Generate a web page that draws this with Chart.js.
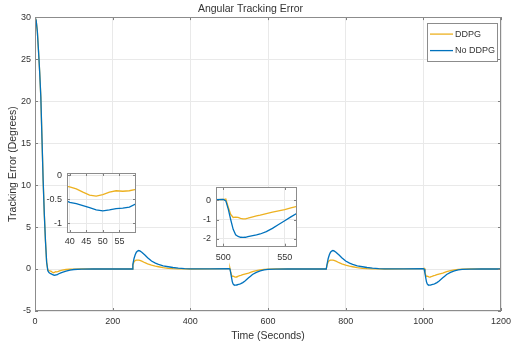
<!DOCTYPE html>
<html lang="en">
<head>
<meta charset="UTF-8">
<title>Angular Tracking Error</title>
<script src="https://cdn.jsdelivr.net/npm/chart.js"></script>
<style>
  body { margin: 0; background: #fff; }
  .wrap { position: relative; width: 511px; height: 347px; }
  canvas { position: absolute; }
  #main { left: 0; top: 0; }
  #inset1 { left: 30px; top: 168px; }
  #inset2 { left: 190px; top: 182px; }
</style>
</head>
<body>
<div class="wrap">
  <canvas id="main" width="511" height="347"></canvas>
  <canvas id="inset1" width="110" height="81"></canvas>
  <canvas id="inset2" width="111" height="81"></canvas>
</div>
<script>
// time axis (seconds)
const time = [
  0, 3, 6, 9, 12, 15, 18, 21, 24, 27, 30, 33, 36, 40, 42, 44, 46, 48, 50, 52,
  54, 56, 58, 60, 65, 70, 80, 90, 100, 120, 150, 200,
  250, 252, 255, 258, 261, 264, 267, 270, 275, 283, 290, 300, 310, 318, 330, 343, 355, 369, 385, 400, 450,
  500, 502, 504, 506, 508, 510, 512, 514, 516, 518, 520, 524, 527, 530, 535, 540, 545, 550, 555, 560,
  570, 580, 590, 600, 620, 650, 700,
  750, 752, 755, 758, 761, 764, 767, 770, 775, 783, 790, 800, 810, 818, 830, 843, 855, 869, 885, 900, 950,
  1000, 1002, 1004, 1006, 1008, 1010, 1012, 1014, 1016, 1018, 1020, 1024, 1027, 1030, 1035, 1040, 1045, 1050, 1055, 1060,
  1070, 1080, 1090, 1100, 1120, 1150, 1200
];

// DDPG error (degrees)
const ddpg = [
  30, 29.6, 28.3, 26, 23.5, 20.5, 15.5, 10.5, 6.5, 3.3, 0.8, -0.1, -0.18, -0.24, -0.28, -0.35, -0.41, -0.43, -0.4, -0.35,
  -0.32, -0.33, -0.32, -0.29, -0.2, -0.13, -0.06, -0.03, -0.01, 0, 0, 0,
  0, 0.45, 0.85, 1.0, 1.05, 1.07, 1.07, 1.03, 0.93, 0.75, 0.62, 0.47, 0.35, 0.27, 0.16, 0.08, 0.04, 0.02, 0.01, 0, 0.02,
  0.05, 0.08, -0.35, -0.72, -0.88, -0.86, -0.88, -0.93, -0.96, -0.95, -0.92, -0.85, -0.8, -0.76, -0.68, -0.6, -0.54, -0.48, -0.39, -0.31,
  -0.18, -0.09, -0.04, -0.02, 0, 0, 0,
  0, 0.45, 0.85, 1.0, 1.05, 1.07, 1.07, 1.03, 0.93, 0.75, 0.62, 0.47, 0.35, 0.27, 0.16, 0.08, 0.04, 0.02, 0.01, 0, 0.02,
  0.05, 0.08, -0.35, -0.72, -0.88, -0.86, -0.88, -0.93, -0.96, -0.95, -0.92, -0.85, -0.8, -0.76, -0.68, -0.6, -0.54, -0.48, -0.39, -0.31,
  -0.18, -0.09, -0.04, -0.02, 0, 0, 0
];

// No DDPG error (degrees)
const noDdpg = [
  30, 29.6, 28.3, 26, 23.5, 20.5, 15.5, 10.5, 6.5, 3.3, 0.8, -0.2, -0.42, -0.56, -0.59, -0.63, -0.67, -0.72, -0.74, -0.72,
  -0.69, -0.68, -0.66, -0.59, -0.5, -0.4, -0.25, -0.13, -0.06, -0.01, 0, 0,
  0, 0.55, 1.25, 1.7, 2.0, 2.15, 2.2, 2.15, 2.0, 1.67, 1.35, 0.95, 0.7, 0.55, 0.38, 0.27, 0.18, 0.1, 0.05, 0.02, 0.02,
  0.05, -0.02, -0.45, -1.0, -1.5, -1.78, -1.87, -1.91, -1.92, -1.91, -1.88, -1.83, -1.79, -1.74, -1.62, -1.45, -1.25, -1.05, -0.85, -0.66,
  -0.4, -0.22, -0.11, -0.05, -0.01, 0, 0,
  0, 0.55, 1.25, 1.7, 2.0, 2.15, 2.2, 2.15, 2.0, 1.67, 1.35, 0.95, 0.7, 0.55, 0.38, 0.27, 0.18, 0.1, 0.05, 0.02, 0.02,
  0.05, -0.02, -0.45, -1.0, -1.5, -1.78, -1.87, -1.91, -1.92, -1.91, -1.88, -1.83, -1.79, -1.74, -1.62, -1.45, -1.25, -1.05, -0.85, -0.66,
  -0.4, -0.22, -0.11, -0.05, -0.01, 0, 0
];

const seriesNames = ['DDPG', 'No DDPG'];
const seriesColors = ['#EDB120', '#0072BD'];

// tick values
const mainXTicks = [0, 200, 400, 600, 800, 1000, 1200];
const mainYTicks = [-5, 0, 5, 10, 15, 20, 25, 30];
const inset1XTicks = [40, 45, 50, 55];
const inset1YTicks = [-1, -0.5, 0];
const inset2XTicks = [500, 550];
const inset2YTicks = [-2, -1, 0];

const FONT = "'Liberation Sans', Arial, sans-serif";
const TXT = '#333';
const GRID = '#e9e9e9';

function makeDatasets() {
  const sets = [ddpg, noDdpg];
  return sets.map((vals, i) => ({
    label: seriesNames[i],
    data: time.map((t, k) => ({ x: t, y: vals[k] })),
    borderColor: seriesColors[i],
    borderWidth: 1.3,
    pointRadius: 0,
    tension: 0,
    order: i === 0 ? 2 : 1
  }));
}

// white plot area, box outline and inward tick marks
const boxPlugin = {
  id: 'box',
  beforeDraw(chart) {
    const { ctx, chartArea: a } = chart;
    ctx.save();
    ctx.fillStyle = '#fff';
    ctx.fillRect(a.left, a.top, a.width, a.height);
    ctx.restore();
  },
  afterDatasetsDraw(chart) {
    const { ctx, chartArea: a, scales } = chart;
    ctx.save();
    ctx.strokeStyle = '#7f7f7f';
    ctx.lineWidth = 1;
    ctx.beginPath();
    scales.x.ticks.forEach(t => {
      const p = Math.round(scales.x.getPixelForValue(t.value)) + 0.5;
      ctx.moveTo(p, a.bottom); ctx.lineTo(p, a.bottom - 3);
      ctx.moveTo(p, a.top); ctx.lineTo(p, a.top + 3);
    });
    scales.y.ticks.forEach(t => {
      const p = Math.round(scales.y.getPixelForValue(t.value)) + 0.5;
      ctx.moveTo(a.left, p); ctx.lineTo(a.left + 3, p);
      ctx.moveTo(a.right, p); ctx.lineTo(a.right - 3, p);
    });
    ctx.stroke();
    ctx.strokeStyle = '#8c8c8c';
    ctx.strokeRect(Math.round(a.left) + 0.5, Math.round(a.top) + 0.5,
      Math.round(a.width) - 1, Math.round(a.height) - 1);
    ctx.restore();
  }
};

// boxed legend in the upper right corner
const legendPlugin = {
  id: 'boxLegend',
  afterDraw(chart) {
    const { ctx, chartArea: a } = chart;
    const w = 70, h = 38;
    const x0 = a.right - 4 - w, y0 = a.top + 6;
    ctx.save();
    ctx.fillStyle = '#fff';
    ctx.fillRect(x0, y0, w, h);
    ctx.strokeStyle = '#8c8c8c';
    ctx.lineWidth = 1;
    ctx.strokeRect(Math.round(x0) + 0.5, Math.round(y0) + 0.5, w, h);
    ctx.font = '9px ' + FONT;
    ctx.textBaseline = 'middle';
    ctx.fillStyle = TXT;
    chart.data.datasets.forEach((ds, i) => {
      const y = y0 + 11 + i * 16.5;
      ctx.strokeStyle = ds.borderColor;
      ctx.lineWidth = 1.3;
      ctx.beginPath();
      ctx.moveTo(x0 + 3, y); ctx.lineTo(x0 + 26, y);
      ctx.stroke();
      ctx.fillText(ds.label, x0 + 28, y);
    });
    ctx.restore();
  }
};

function fixedTicks(list) {
  return s => { s.ticks = list.map(v => ({ value: v })); };
}
const plain = v => String(v);

new Chart(document.getElementById('main'), {
  type: 'line',
  data: { datasets: makeDatasets() },
  plugins: [boxPlugin, legendPlugin],
  options: {
    responsive: false,
    animation: false,
    events: [],
    layout: { padding: { left: 0, right: 10, top: 0, bottom: 0 } },
    plugins: {
      legend: { display: false },
      tooltip: { enabled: false },
      title: {
        display: true, text: 'Angular Tracking Error', color: TXT,
        font: { family: FONT, size: 10.5, weight: 'normal' },
        padding: { top: 3, bottom: 1.5 }
      }
    },
    scales: {
      x: {
        type: 'linear', min: 0, max: 1200,
        afterBuildTicks: fixedTicks(mainXTicks),
        afterFit: s => { s.height = 36; s.paddingLeft = 0; s.paddingRight = 0; },
        grid: { color: GRID, drawTicks: false },
        border: { display: false },
        ticks: { padding: 5, color: TXT, font: { family: FONT, size: 9 }, maxRotation: 0, autoSkip: false, callback: plain },
        title: { display: true, text: 'Time (Seconds)', color: TXT, font: { family: FONT, size: 10.5 }, padding: { top: 0, bottom: 5 } }
      },
      y: {
        type: 'linear', min: -5, max: 30,
        afterBuildTicks: fixedTicks(mainYTicks),
        afterFit: s => { s.width = 35; },
        grid: { color: GRID, drawTicks: false },
        border: { display: false },
        ticks: { padding: 4, color: TXT, font: { family: FONT, size: 9 }, autoSkip: false, callback: plain },
        title: { display: true, text: 'Tracking Error (Degrees)', color: TXT, font: { family: FONT, size: 10.5 }, padding: { top: 7, bottom: 0 } }
      }
    }
  }
});

function makeInset(id, cfg) {
  new Chart(document.getElementById(id), {
    type: 'line',
    data: { datasets: makeDatasets() },
    plugins: [boxPlugin],
    options: {
      responsive: false,
      animation: false,
      events: [],
      layout: { padding: { left: 0, right: cfg.padRight, top: cfg.padTop, bottom: 0 } },
      plugins: { legend: { display: false }, tooltip: { enabled: false }, title: { display: false } },
      scales: {
        x: {
          type: 'linear', min: cfg.xMin, max: cfg.xMax,
          afterBuildTicks: fixedTicks(cfg.xTicks),
          afterFit: s => { s.height = cfg.xHeight; s.paddingLeft = 0; s.paddingRight = 0; },
          grid: { color: GRID, drawTicks: false },
          border: { display: false },
          ticks: { padding: cfg.xPad, color: TXT, font: { family: FONT, size: 9 }, maxRotation: 0, autoSkip: false, callback: plain },
        },
        y: {
          type: 'linear', min: cfg.yMin, max: cfg.yMax,
          afterBuildTicks: fixedTicks(cfg.yTicks),
          afterFit: s => { s.width = cfg.yWidth; s.paddingTop = 0; s.paddingBottom = 0; },
          grid: { color: GRID, drawTicks: false },
          border: { display: false },
          ticks: { padding: 5, color: TXT, font: { family: FONT, size: 9 }, autoSkip: false, callback: plain }
        }
      }
    }
  });
}

makeInset('inset1', {
  xMin: 39.2, xMax: 60, yMin: -1.2, yMax: 0.05,
  xTicks: inset1XTicks, yTicks: inset1YTicks,
  yWidth: 37, padTop: 5, padRight: 4, xHeight: 16, xPad: 3.5
});

makeInset('inset2', {
  xMin: 494, xMax: 560, yMin: -2.4, yMax: 0.7,
  xTicks: inset2XTicks, yTicks: inset2YTicks,
  yWidth: 26, padTop: 5, padRight: 4, xHeight: 16.3, xPad: 5
});
</script>
</body>
</html>
